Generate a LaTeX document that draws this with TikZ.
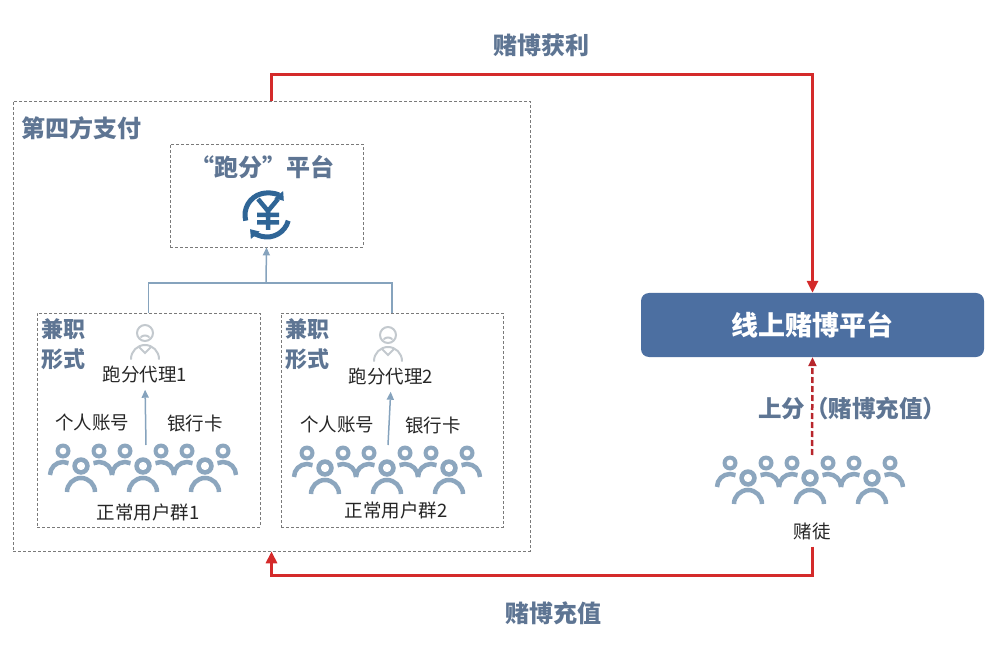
\documentclass[tikz,border=0pt]{standalone}
\usepackage{fontspec}
\setmainfont{Noto Sans CJK SC}
\usepackage{tikz}
\usetikzlibrary{arrows.meta,positioning}
\definecolor{titlecol}{HTML}{5E7593}
\definecolor{platcol}{HTML}{4C6FA1}
\definecolor{redcol}{HTML}{D42A2A}
\definecolor{dashred}{HTML}{B8262C}
\definecolor{linkcol}{HTML}{86A3BD}
\definecolor{peoplecol}{HTML}{8CA6BE}
\definecolor{agentcol}{HTML}{C3C9CE}
\definecolor{yuancol}{HTML}{2F6596}
\definecolor{boxcol}{HTML}{7A7A7A}
\tikzset{
	back person/.pic={
		\fill[even odd rule] (0,0) circle[radius=7.5] (0,0) circle[radius=3.5];
		\draw (-13,24) arc[start angle=180,end angle=360,radius=13];
	},
	front person/.pic={
		\fill[white] (0,0) circle[radius=13];
		\draw[white,line width=9pt] (-14,26) arc[start angle=180,end angle=360,radius=14];
		\fill[even odd rule] (0,0) circle[radius=8.75] (0,0) circle[radius=4.25];
		\draw (-14,26) arc[start angle=180,end angle=360,radius=14];
	},
	user group/.pic={
		\pic at (-18,-15) {back person};
		\pic at (18,-15) {back person};
		\pic {front person};
	},
	crowd/.pic={
		\pic at (-62,0) {user group};
		\pic {user group};
		\pic at (62,0) {user group};
	},
	agent/.pic={
		\draw (0,0) circle[radius=8];
		\draw (-4,4) .. controls (-2,2) and (2,2) .. (4,4);
		\draw (-14,26) arc[start angle=180,end angle=360,radius=14];
		\draw (-6,14) -- (0,20) -- (6,14);
	}
}
\begin{document}
\begin{tikzpicture}[x=1pt,y=-1pt,>={Triangle[length=12pt,width=11pt]},
								box node/.style={draw=boxcol,dash pattern=on 3pt off 2pt,line width=0.7pt,inner sep=0pt},
								title node/.style={text=titlecol,font=\fontsize{24}{28}\selectfont\bfseries,inner sep=0pt},
								text node/.style={text=black!85,font=\fontsize{18.5}{22}\selectfont,inner sep=0pt},
								red line/.style={draw=redcol,line width=3pt},
								link line/.style={draw=linkcol,line width=1.5pt},
								link arrow/.style={draw=linkcol,line width=1.5pt,-{Triangle[length=8pt,width=7pt]}},
								people/.style={draw=peoplecol,fill=peoplecol,line width=4.5pt},
								agent icon/.style={draw=agentcol,line width=2pt,line cap=round},
								yuan/.style={draw=yuancol,line width=5pt,-{Triangle[length=8pt,width=11pt]}}]
								
								\useasboundingbox (0,0) rectangle (988,652);
								
								\node[box node,minimum width=517pt,minimum height=450pt] (1) at (271.5,326) {};
								\node[title node,anchor=west] (11) at (21,128) {第四方支付};
								\node[box node,minimum width=193pt,minimum height=103pt] (2) at (266.5,195.5) {};
								\node[title node] (12) at (262,167) {“跑分”平台};
								\node[box node,minimum width=223pt,minimum height=214pt] (3) at (148.5,420) {};
								\node[box node,minimum width=222pt,minimum height=214pt] (4) at (392,420) {};
								\node[rounded corners=8pt,fill=platcol,text=white,minimum width=343pt,minimum height=64pt,
									font=\fontsize{27}{30}\selectfont\bfseries] (7) at (812.5,325) {线上赌博平台};
								
								\node[title node] (13) at (541,45) {赌博获利};
								\node[title node] (14) at (553,613) {赌博充值};
								\node[title node,font=\fontsize{23.5}{28}\selectfont\bfseries] (15) at (852,409) {上分（赌博充值）};
								\node[text node] (16) at (812,531) {赌徒};
								
								\node[title node,font=\fontsize{22}{30}\selectfont\bfseries,align=left,anchor=north west] (17) at (41,318) {兼职\\形式};
								\node[text node] (18) at (145,375) {跑分代理1};
								\node[text node] (19) at (92,423) {个人账号};
								\node[text node] (20) at (195,423) {银行卡};
								\node[text node] (21) at (148,512) {正常用户群1};
								
								\node[title node,font=\fontsize{22}{30}\selectfont\bfseries,align=left,anchor=north west] (22) at (285,318) {兼职\\形式};
								\node[text node] (23) at (391,377) {跑分代理2};
								\node[text node] (24) at (337,425) {个人账号};
								\node[text node] (25) at (433,425) {银行卡};
								\node[text node] (26) at (396,510) {正常用户群2};
								
								\pic[agent icon] at (145,333) {agent};
								\pic[agent icon] at (388,335) {agent};
								\pic[people] at (143,466) {crowd};
								\pic[people] at (387,468) {crowd};
								\pic[people] at (810,478) {crowd};
								
								\draw[yuan] (267,215) ++(-195:22) arc[start angle=-195,end angle=-40,radius=22];
								\draw[yuan] (267,215) ++(15:22) arc[start angle=15,end angle=140,radius=22];
								\draw[yuancol,line width=4.5pt] (258,199) -- (268,211) -- (278,199)
									(268,211) -- (268,230) (257,215) -- (279,215) (257,222.5) -- (279,222.5);
								
								\coordinate (5) at (266,283);
								\coordinate (6) at (541,75);
								\coordinate (8) at (541,575);
								\coordinate (9) at (812,455);
								\coordinate (27) at (146,445);
								\coordinate (28) at (388,445);
								
								\draw[link line] (3.north) |- (5) -| (4.north);
								\draw[link arrow] (5) -- (2.south);
								\draw[link arrow,shorten >=6pt] (27) -- (18.south);
								\draw[link arrow,shorten >=6pt] (28) -- (23.south);
								\draw[red line,->] (1.north) |- (6) -| (7.north);
								\draw[red line,->] ([yshift=-7pt]16.south) |- (8) -| (1.south);
								\draw[draw=dashred,line width=2.5pt,dash pattern=on 6pt off 3pt,-{Triangle[length=9pt,width=8pt]}] (9) -- (7.south);
							\end{tikzpicture}
\end{document}
